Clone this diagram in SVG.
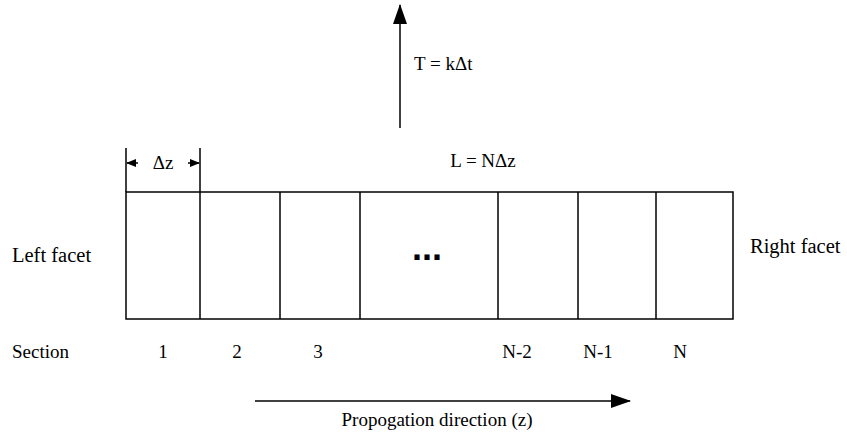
<svg xmlns="http://www.w3.org/2000/svg" width="847" height="435" viewBox="0 0 847 435">
<style>
text{font-family:"Liberation Serif","Times New Roman",serif;font-size:19px;fill:#000}
.f{font-size:20.5px}
.ln{stroke:#000;stroke-width:1.5;fill:none}
.box{stroke:#000;stroke-width:1.5;fill:#fff}
</style>
<defs>
<marker id="ah" markerWidth="10" markerHeight="8" refX="9" refY="4" orient="auto" markerUnits="userSpaceOnUse">
<path d="M0,0 L10,4 L0,8 Z" fill="#000"/>
</marker>
<marker id="big" markerWidth="20" markerHeight="14" refX="19" refY="7" orient="auto" markerUnits="userSpaceOnUse">
<path d="M0,0 L20,7 L0,14 Z" fill="#000"/>
</marker>
</defs>
<g id="cavity">
<rect class="box" x="126" y="192" width="607" height="127"/>
<g class="ln">
<line x1="200" y1="192" x2="200" y2="319"/>
<line x1="280" y1="192" x2="280" y2="319"/>
<line x1="360" y1="192" x2="360" y2="319"/>
<line x1="498" y1="192" x2="498" y2="319"/>
<line x1="578" y1="192" x2="578" y2="319"/>
<line x1="656" y1="192" x2="656" y2="319"/>
</g>
<text x="427" y="260" text-anchor="middle" style="font-weight:bold;font-size:36px;font-family:'Liberation Sans',Arial,sans-serif">...</text>
</g>
<g id="connectors">
<line class="ln" x1="126" y1="148" x2="126" y2="192"/>
<line class="ln" x1="200" y1="148" x2="200" y2="192"/>
<line class="ln" x1="138" y1="163" x2="127" y2="163" marker-end="url(#ah)"/>
<line class="ln" x1="188" y1="163" x2="199" y2="163" marker-end="url(#ah)"/>
<line class="ln" x1="400" y1="128" x2="400" y2="5" marker-end="url(#big)"/>
<line class="ln" x1="255" y1="401" x2="630" y2="401" marker-end="url(#big)"/>
</g>
<g id="labels">
<text x="163" y="169" text-anchor="middle">Δz</text>
<text x="414" y="70">T = kΔt</text>
<text x="483" y="167" text-anchor="middle">L = NΔz</text>
<text class="f" x="12" y="262">Left facet</text>
<text class="f" x="750" y="253">Right facet</text>
<text x="12" y="358">Section</text>
<text x="163" y="358" text-anchor="middle">1</text>
<text x="237" y="358" text-anchor="middle">2</text>
<text x="318" y="358" text-anchor="middle">3</text>
<text x="517" y="358" text-anchor="middle">N-2</text>
<text x="598" y="358" text-anchor="middle">N-1</text>
<text x="680" y="358" text-anchor="middle">N</text>
<text x="437" y="426" text-anchor="middle">Propogation direction (z)</text>
</g>
</svg>
